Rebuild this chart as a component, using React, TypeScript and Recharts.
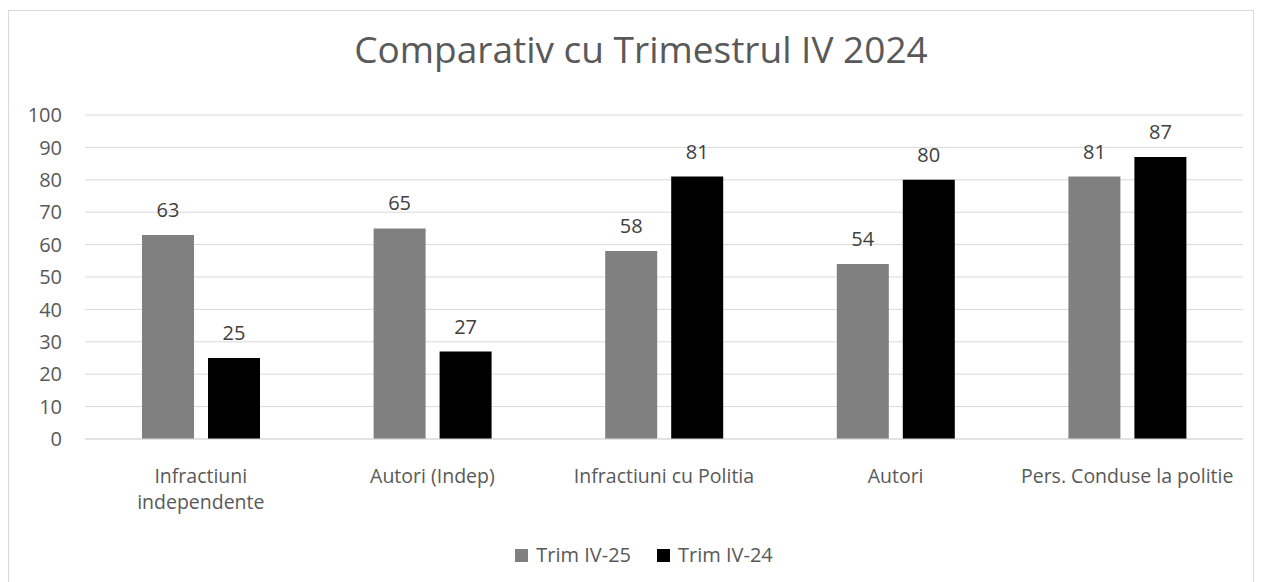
import { BarChart, Bar, XAxis, YAxis, CartesianGrid, Legend, LabelList } from "recharts";

const categories = [
  "Infractiuni\nindependente",
  "Autori (Indep)",
  "Infractiuni cu Politia",
  "Autori",
  "Pers. Conduse la politie",
];
const trimIV25 = [63, 65, 58, 54, 81];
const trimIV24 = [25, 27, 81, 80, 87];
const yTicks = [0, 10, 20, 30, 40, 50, 60, 70, 80, 90, 100];

const data = categories.map((name, i) => ({
  name,
  t25: trimIV25[i],
  t24: trimIV24[i],
}));

const FONT = "'Open Sans', sans-serif";
const TEXT = "#595959";

const legendItems = [
  { label: "Trim IV-25", color: "#808080" },
  { label: "Trim IV-24", color: "#000000" },
];

function CategoryTick(props: any) {
  const { x, y, payload } = props;
  const lines = String(payload.value).split("\n");
  return (
    <text x={x} y={y} textAnchor="middle" fill={TEXT} fontFamily={FONT} fontSize={19.5}>
      {lines.map((l, i) => (
        <tspan key={i} x={x} dy={i === 0 ? 36 : 26}>
          {l}
        </tspan>
      ))}
    </text>
  );
}

function LegendBox() {
  return (
    <div
      style={{
        display: "flex",
        justifyContent: "center",
        gap: 26,
        paddingLeft: 26,
        fontFamily: FONT,
        fontSize: 20,
        color: TEXT,
        lineHeight: "28px",
      }}
    >
      {legendItems.map((it) => (
        <div key={it.label} style={{ display: "flex", alignItems: "center", gap: 8 }}>
          <span style={{ width: 13, height: 13, background: it.color, display: "inline-block" }} />
          <span>{it.label}</span>
        </div>
      ))}
    </div>
  );
}

export default function App() {
  return (
    <div
      style={{
        position: "relative",
        width: 1244,
        height: 590,
        marginTop: 2,
        border: "1px solid #d9d9d9",
        background: "#fff",
      }}
    >
      <div
        style={{
          position: "absolute",
          top: 12,
          left: 10,
          width: 1244,
          textAlign: "center",
          fontFamily: FONT,
          fontSize: 37,
          color: TEXT,
        }}
      >
        Comparativ cu Trimestrul IV 2024
      </div>
      <BarChart
        width={1244}
        height={590}
        data={data}
        margin={{ top: 104, right: 10, left: 0, bottom: 34 }}
        barCategoryGap="24.5%"
        barGap={14}
      >
        <CartesianGrid stroke="#d9d9d9" vertical={false} />
        <XAxis
          dataKey="name"
          tick={<CategoryTick />}
          tickLine={false}
          axisLine={{ stroke: "#d9d9d9" }}
          interval={0}
          height={100}
        />
        <YAxis
          domain={[0, 100]}
          ticks={yTicks}
          width={76}
          tickLine={false}
          axisLine={false}
          tick={{ fill: TEXT, fontFamily: FONT, fontSize: 20 }}
          tickMargin={17}
          interval={0}
        />
        <Legend content={<LegendBox />} wrapperStyle={{ top: 530, left: 0, width: 1244 }} />
        <Bar dataKey="t25" name="Trim IV-25" fill="#808080" barSize={52} isAnimationActive={false}>
          <LabelList
            dataKey="t25"
            position="top"
            offset={18}
            style={{ fill: "#404040", fontFamily: FONT, fontSize: 20 }}
          />
        </Bar>
        <Bar dataKey="t24" name="Trim IV-24" fill="#000000" barSize={52} isAnimationActive={false}>
          <LabelList
            dataKey="t24"
            position="top"
            offset={18}
            style={{ fill: "#404040", fontFamily: FONT, fontSize: 20 }}
          />
        </Bar>
      </BarChart>
    </div>
  );
}
